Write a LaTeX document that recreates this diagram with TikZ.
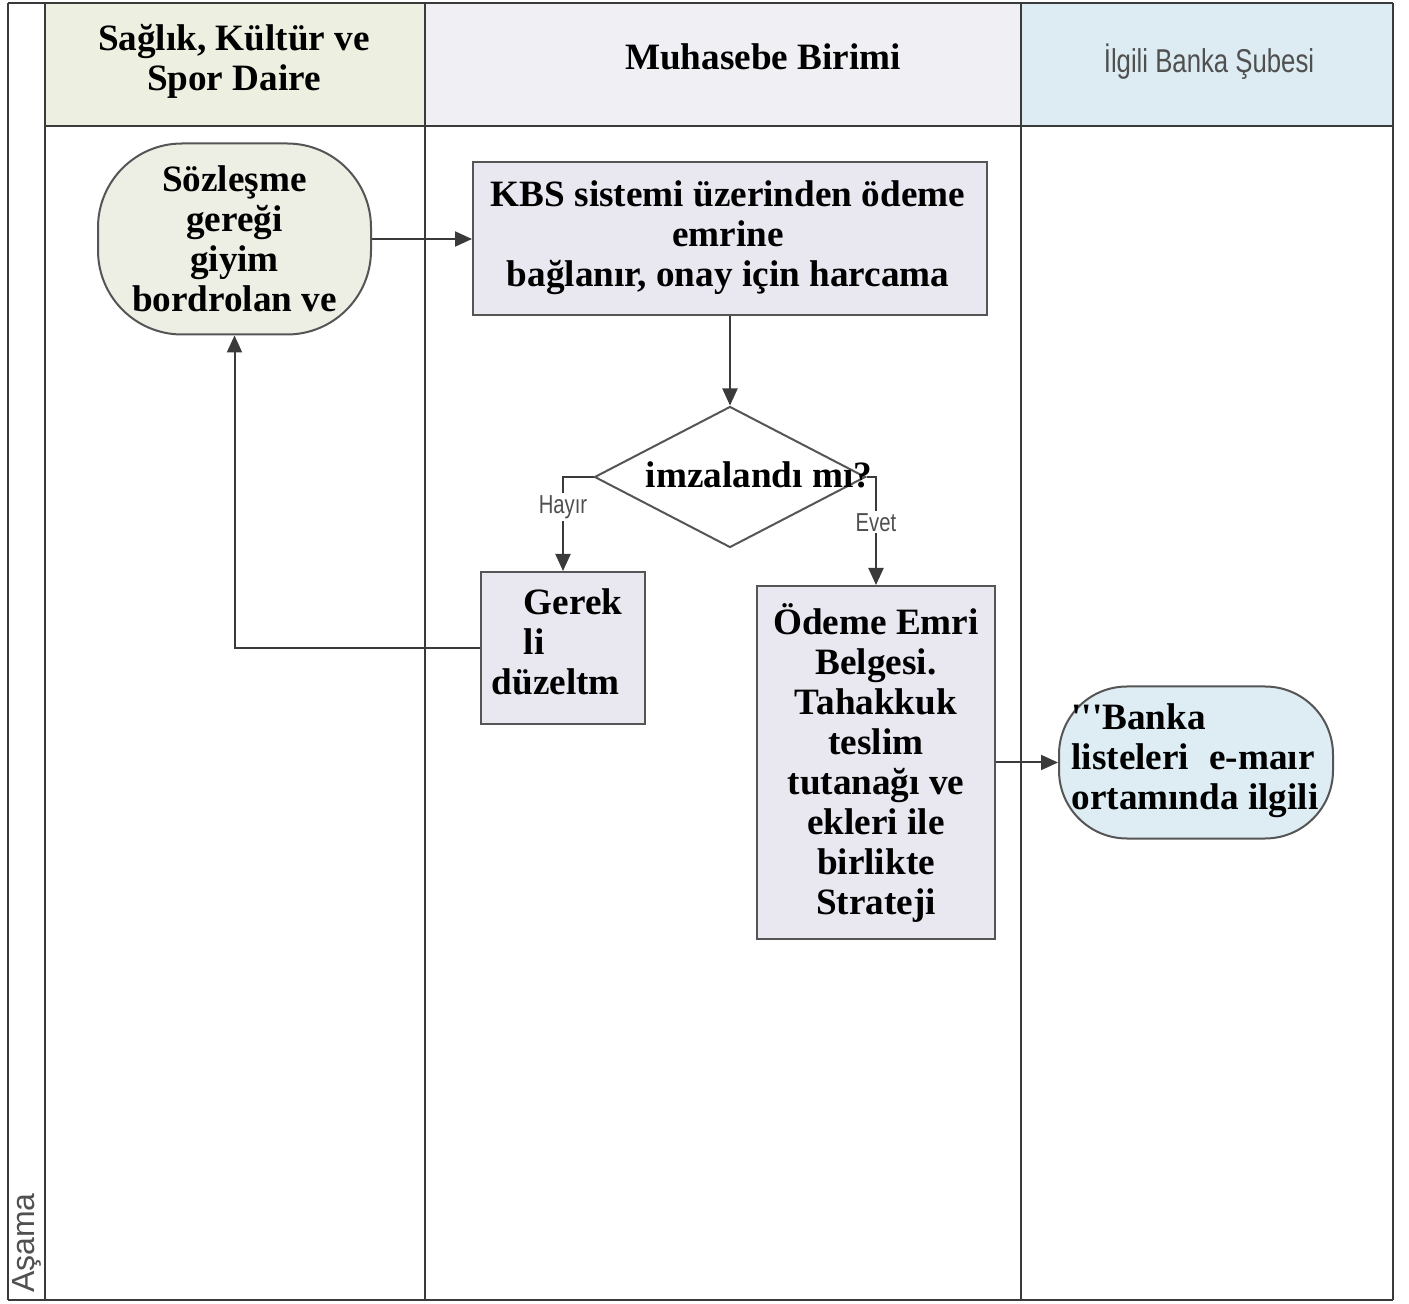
\documentclass[tikz,border=0pt]{standalone}
\usepackage{fontspec}
\setmainfont{Liberation Serif}
\newfontfamily\narrowsans[FakeStretch=0.78]{Liberation Sans}
\newfontfamily\plainsans{Liberation Sans}
\usetikzlibrary{shapes.geometric,arrows.meta}
\definecolor{lanecol}{HTML}{3A3A3A}
\definecolor{boxline}{HTML}{555555}
\definecolor{hdrA}{HTML}{EDF0E1}
\definecolor{hdrB}{HTML}{EFEFF4}
\definecolor{hdrC}{HTML}{DCECF2}
\definecolor{startfill}{HTML}{EDEFE5}
\definecolor{procfill}{HTML}{E9E8F0}
\definecolor{bankfill}{HTML}{DDEDF3}
\definecolor{labgray}{HTML}{505050}
\begin{document}
\begin{tikzpicture}[x=0.5pt,y=-0.5pt,
  lane/.style={draw=lanecol,line width=1.2pt},
  txt/.style={font=\bfseries\fontsize{18.6}{20}\selectfont,align=center},
  procbox/.style={rectangle,draw=boxline,line width=1pt,fill=procfill,inner sep=0pt},
  termbox/.style={rectangle,draw=boxline,line width=1pt,inner sep=0pt},
  arr/.style={draw=lanecol,line width=1pt,-{Triangle[length=8.5pt,width=7.5pt]}},
  branchlab/.style={font=\narrowsans\fontsize{13}{15}\selectfont,text=labgray,fill=white,inner sep=1pt}]
\useasboundingbox[fill=white] (0,0) rectangle (1409,1304);
% header fills
\fill[hdrA] (45,3) rectangle (425,126);
\fill[hdrB] (425,3) rectangle (1021,126);
\fill[hdrC] (1021,3) rectangle (1393,126);
% lane lines
\draw[lane] (8,3) -- (1393,3);
\draw[lane] (45,126) -- (1393,126);
\draw[lane] (8,1300) -- (1393,1300);
\draw[lane] (8,3) -- (8,1300);
\draw[lane] (45,3) -- (45,1300);
\draw[lane] (425,3) -- (425,1300);
\draw[lane] (1021,3) -- (1021,1300);
\draw[lane] (1393,3) -- (1393,1300);
% headers
\node[txt] (h1) at (234,61) {Sağlık, Kültür ve\\Spor Daire};
\node[txt] (h2) at (763,57) {Muhasebe Birimi};
\node[font=\narrowsans\fontsize{16.5}{18}\selectfont,text=labgray] (h3) at (1209,62) {İlgili Banka Şubesi};
\node[rotate=90,font=\plainsans\fontsize{16}{18}\selectfont,text=labgray] (asama) at (27,1243) {Aşama};
% nodes
\node[termbox,fill=startfill,rounded corners=42pt,minimum width=136.5pt,minimum height=95.5pt,txt] (start) at (234.5,239) {Sözleşme\\gereği\\giyim\\bordrolan ve};
\node[procbox,minimum width=257pt,minimum height=76.5pt] (kbs) at (730,239) {};
\node[txt] (kbstext) at (728,238) {KBS sistemi üzerinden ödeme\\emrine\\bağlanır, onay için harcama};
\node[diamond,draw=boxline,line width=1pt,fill=white,minimum width=135.5pt,minimum height=70.5pt,inner sep=0pt] (dec) at (730,477) {};
\node[txt] (dectext) at (759,475) {imzalandı mı?};
\node[procbox,minimum width=82pt,minimum height=76pt] (gerek) at (563,648) {};
\node[txt,align=left] (gerektext) at (557,642) {\hspace*{16pt}Gerek\\\hspace*{16pt}li\\düzeltm};
\node[procbox,minimum width=119pt,minimum height=176.5pt,txt] (odeme) at (876,762.5) {Ödeme Emri\\Belgesi.\\Tahakkuk\\teslim\\tutanağı ve\\ekleri ile\\birlikte\\Strateji};
\node[termbox,fill=bankfill,rounded corners=34pt,minimum width=137pt,minimum height=76pt] (banka) at (1196,762.5) {};
\node[txt,align=left] (bankatext) at (1195,761) {\textquotesingle\textquotesingle\textquotesingle Banka\\listeleri\hspace{10pt}e-maır\\ortamında ilgili};
% connectors
\draw[arr] (start.east) -- (kbs.west);
\draw[arr] (kbs.south) -- (dec.north);
\draw[arr] (dec.west) -| node[branchlab,pos=0.66] {Hayır} (gerek.north);
\draw[arr] (dec.east) -| node[branchlab,pos=0.71] {Evet} (odeme.north);
\draw[arr] (gerek.west) -| (start.south);
\draw[arr] (odeme.east) -- (banka.west);
\end{tikzpicture}
\end{document}
